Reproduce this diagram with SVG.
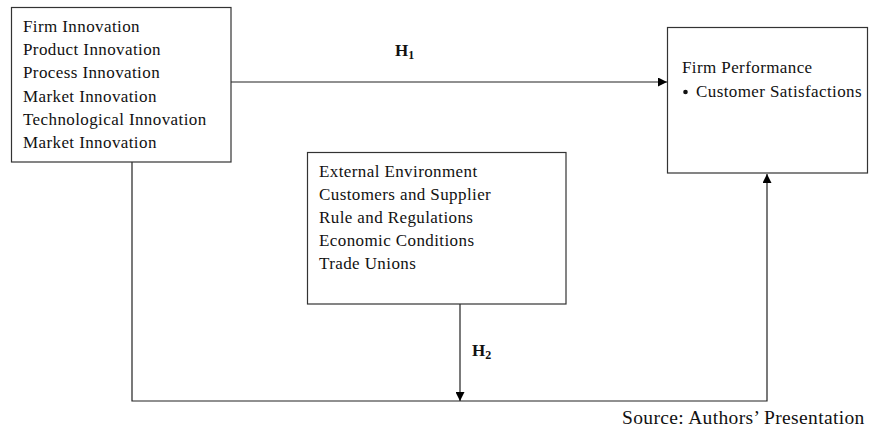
<svg xmlns="http://www.w3.org/2000/svg" width="870" height="429" viewBox="0 0 870 429">
<style>
text{font-family:"Liberation Serif","Times New Roman",serif;font-size:17px;letter-spacing:0.4px;fill:#111}
.box{fill:#fff;stroke:#333;stroke-width:1.2}
.ln{fill:none;stroke:#222;stroke-width:1.2}
.h{font-weight:bold;font-size:17px;letter-spacing:0}
.sub{font-size:12px;font-weight:bold}
.src{font-size:19.5px;letter-spacing:0.35px}
</style>
<defs>
<marker id="ah" viewBox="0 0 10 10" refX="10" refY="5" markerWidth="9" markerHeight="9" markerUnits="userSpaceOnUse" orient="auto">
<path d="M0,0 L10,5 L0,10 z" fill="#000"/>
</marker>
</defs>
<g id="connectors">
<line class="ln" x1="231" y1="82" x2="667" y2="82" marker-end="url(#ah)"/>
<polyline class="ln" points="132,162 132,401 767,401 767,174" marker-end="url(#ah)"/>
<line class="ln" x1="460" y1="304" x2="460" y2="401" marker-end="url(#ah)"/>
<text class="h" x="395" y="56">H<tspan class="sub" dy="3">1</tspan></text>
<text class="h" x="472" y="356">H<tspan class="sub" dy="3">2</tspan></text>
</g>
<g id="firm-innovation">
<rect class="box" x="11.5" y="7.5" width="219.5" height="154.5"/>
<text x="23" y="32">Firm Innovation</text>
<text x="23" y="55">Product Innovation</text>
<text x="23" y="78">Process Innovation</text>
<text x="23" y="102">Market Innovation</text>
<text x="23" y="125">Technological Innovation</text>
<text x="23" y="148">Market Innovation</text>
</g>
<g id="external-environment">
<rect class="box" x="307.5" y="152.5" width="258.5" height="151.5"/>
<text x="319" y="177">External Environment</text>
<text x="319" y="200">Customers and Supplier</text>
<text x="319" y="223">Rule and Regulations</text>
<text x="319" y="246">Economic Conditions</text>
<text x="319" y="269">Trade Unions</text>
</g>
<g id="firm-performance">
<rect class="box" x="667.5" y="27.5" width="200" height="145.5"/>
<text x="682" y="73">Firm Performance</text>
<circle cx="685.5" cy="92" r="2.3" fill="#111"/>
<text x="696" y="97">Customer Satisfactions</text>
</g>
<g id="source">
<text class="src" x="622" y="424">Source: Authors’ Presentation</text>
</g>
</svg>
